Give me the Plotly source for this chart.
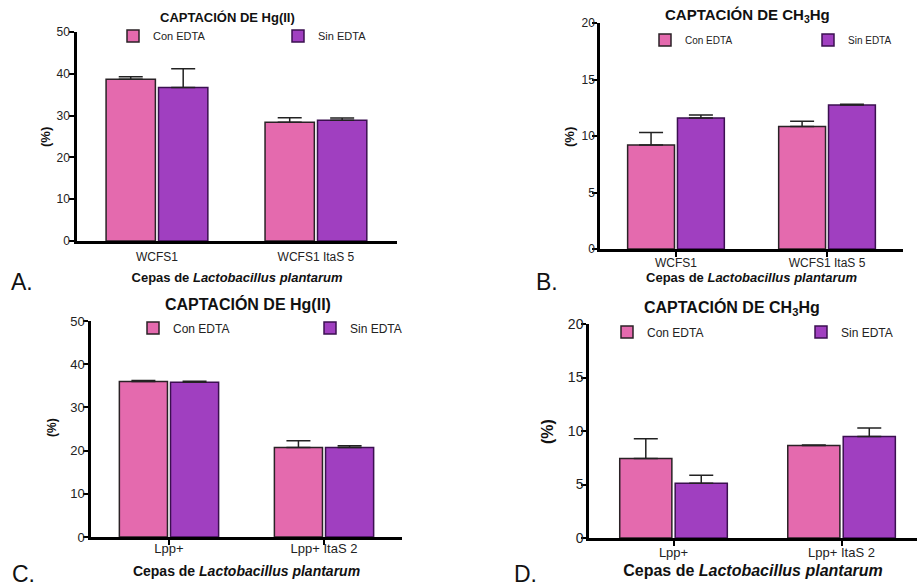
import plotly.graph_objects as go

W, H = 917, 587

# ---------------- data ----------------
cats_A = ["WCFS1", "WCFS1 ItaS 5"]
con_A = [38.7, 28.4]
con_A_err = [0.6, 1.1]
sin_A = [36.7, 28.9]
sin_A_err = [4.5, 0.5]

cats_B = ["WCFS1", "WCFS1 ItaS 5"]
con_B = [9.2, 10.85]
con_B_err = [1.1, 0.45]
sin_B = [11.6, 12.74]
sin_B_err = [0.25, 0.08]

cats_C = ["Lpp+", "Lpp+ ItaS 2"]
con_C = [36.0, 20.7]
con_C_err = [0.25, 1.6]
sin_C = [35.8, 20.7]
sin_C_err = [0.25, 0.4]

cats_D = ["Lpp+", "Lpp+ ItaS 2"]
con_D = [7.43, 8.64]
con_D_err = [1.84, 0.05]
sin_D = [5.12, 9.49]
sin_D_err = [0.75, 0.78]

PINK = "#E46AAE"
PURPLE = "#A03FC0"
FONT = "Liberation Sans, Arial, sans-serif"

def px(x):
    return x / W

def py(y):
    return 1 - y / H

panels = [
    dict(key="", cats=cats_A, con=con_A, cerr=con_A_err, sin=sin_A, serr=sin_A_err,
         x0=77, x1=397, yb=241, yt=32, ymax=50, dtick=10, xr=[-0.503, 1.51],
         title="CAPTACIÓN DE Hg(II)", tsize=13, tx=227, ty=17,
         tick=12, xtick=12, xtitle=13, ytitle=13, xticks="",
         xls=3, xts=10, yls=-3, ytx=46, yty=137,
         leg_x=127, leg_y=36, leg_w=120, leg_f=11, lab="A.", labx=22, laby=282),
    dict(key="2", cats=cats_B, con=con_B, cerr=con_B_err, sin=sin_B, serr=sin_B_err,
         x0=600, x1=903, yb=249, yt=23, ymax=20, dtick=5, xr=[-0.503, 1.503],
         title="CAPTACIÓN DE CH<sub>3</sub>Hg", tsize=15, tx=747, ty=15,
         tick=12, xtick=12, xtitle=13, ytitle=13, xticks="outside",
         xls=-4, xts=3, yls=-5, ytx=570, yty=137,
         leg_x=659, leg_y=40, leg_w=118, leg_f=10, lab="B.", labx=547, laby=282),
    dict(key="3", cats=cats_C, con=con_C, cerr=con_C_err, sin=sin_C, serr=sin_C_err,
         x0=91, x1=402, yb=537, yt=321, ymax=50, dtick=10, xr=[-0.503, 1.503],
         title="CAPTACIÓN DE Hg(II)", tsize=16, tx=248, ty=304,
         tick=13, xtick=13, xtitle=14, ytitle=12, xticks="outside",
         xls=-7, xts=11, yls=-4, ytx=52, yty=428,
         leg_x=147, leg_y=328, leg_w=132, leg_f=12, lab="C.", labx=23, laby=574),
    dict(key="4", cats=cats_D, con=con_D, cerr=con_D_err, sin=sin_D, serr=sin_D_err,
         x0=589, x1=917, yb=538, yt=324, ymax=20, dtick=5, xr=[-0.503, 1.449],
         title="CAPTACIÓN DE CH<sub>3</sub>Hg", tsize=16, tx=732, ty=308,
         tick=14, xtick=13, xtitle=16, ytitle=16, xticks="outside",
         xls=-4, xts=6, yls=-5, ytx=547, yty=432,
         leg_x=621, leg_y=332, leg_w=149, leg_f=12, lab="D.", labx=525, laby=574),
]

fig = go.Figure()
layout = dict(
    width=W, height=H, margin=dict(l=0, r=0, t=0, b=0, autoexpand=False),
    paper_bgcolor="white", plot_bgcolor="white",
    barmode="group", bargap=0.34, bargroupgap=0.06,
    font=dict(family=FONT, color="#111"),
    annotations=[],
)

for p in panels:
    k = p["key"]
    xa = "x" + k
    ya = "y" + k
    leg = "legend" + k
    for name, vals, errs, color, lc in [
        ("Con EDTA", p["con"], p["cerr"], PINK, "#2a2226"),
        ("Sin EDTA", p["sin"], p["serr"], PURPLE, "#3b1050"),
    ]:
        fig.add_trace(go.Bar(
            x=p["cats"], y=vals, name=name, xaxis=xa, yaxis=ya, legend=leg,
            marker=dict(color=color, line=dict(color=lc, width=1.5)),
            error_y=dict(type="data", array=errs, arrayminus=[0] * len(errs),
                         symmetric=False, color="#222", thickness=1.5, width=12),
        ))
    layout["xaxis" + k] = dict(
        domain=[px(p["x0"]), px(p["x1"])], anchor=ya, range=p["xr"], automargin=False,
        showline=True, linecolor="black", linewidth=2.5,
        ticks=p["xticks"], ticklen=5, tickwidth=2, tickcolor="black",
        ticklabelstandoff=p["xls"],
        showgrid=False, zeroline=False, fixedrange=True,
        tickfont=dict(size=p["xtick"], family=FONT, color="#222"),
        title=dict(text="<b>Cepas de <i>Lactobacillus plantarum</i></b>",
                   font=dict(size=p["xtitle"], family=FONT, color="#111"), standoff=p["xts"]),
    )
    layout["yaxis" + k] = dict(
        domain=[py(p["yb"]), py(p["yt"])], anchor=xa, range=[0, p["ymax"]], automargin=False,
        dtick=p["dtick"], showline=True, linecolor="black", linewidth=2.5,
        ticks="outside", ticklen=5, tickwidth=2, tickcolor="black",
        ticklabelstandoff=p["yls"],
        showgrid=False, zeroline=False, fixedrange=True,
        tickfont=dict(size=p["tick"], family=FONT, color="#222"),
    )
    layout[leg] = dict(
        orientation="h", x=px(p["leg_x"] - 14), xanchor="left",
        y=py(p["leg_y"]), yanchor="middle",
        entrywidth=p["leg_w"], entrywidthmode="pixels",
        font=dict(size=p["leg_f"], family=FONT, color="#222"),
        bgcolor="rgba(0,0,0,0)", tracegroupgap=0,
    )
    layout["annotations"].append(dict(
        text="<b>" + p["title"] + "</b>", x=px(p["tx"]), y=py(p["ty"]),
        xref="paper", yref="paper", xanchor="center", yanchor="middle",
        showarrow=False, font=dict(size=p["tsize"], family=FONT, color="#111"),
    ))
    layout["annotations"].append(dict(
        text="<b>(%)</b>", x=px(p["ytx"]), y=py(p["yty"]), textangle=-90,
        xref="paper", yref="paper", xanchor="center", yanchor="middle",
        showarrow=False, font=dict(size=p["ytitle"], family=FONT, color="#111"),
    ))
    layout["annotations"].append(dict(
        text=p["lab"], x=px(p["labx"]), y=py(p["laby"]),
        xref="paper", yref="paper", xanchor="center", yanchor="middle",
        showarrow=False, font=dict(size=23, family=FONT, color="#111"),
    ))

fig.update_layout(**layout)
fig.write_html("out.html")
